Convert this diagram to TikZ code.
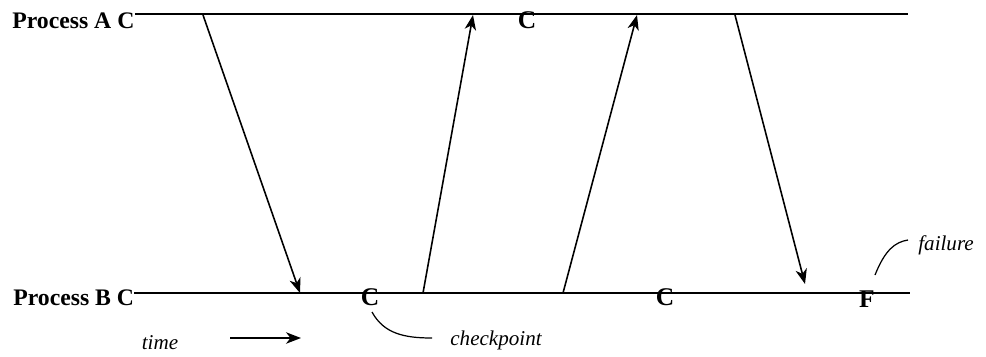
\documentclass[tikz,border=0pt]{standalone}
\usepackage{fontspec}
\setmainfont{Liberation Serif}
\usetikzlibrary{positioning,arrows.meta}

\begin{document}
\begin{tikzpicture}[x=0.02cm, y=-0.02cm, >={Stealth[length=8.5pt,width=6.5pt,inset=2.5pt]},
  proc/.style={font=\fontsize{13.5}{16}\selectfont\bfseries, inner sep=0pt},
  cmark/.style={font=\fontsize{14.5}{16}\selectfont\bfseries, inner sep=0pt},
  note/.style={font=\fontsize{12}{14}\selectfont\itshape, inner sep=0pt},
  tline/.style={line width=1.1pt},
  msg/.style={->, line width=0.9pt},
  pointer/.style={line width=0.7pt},
]
\useasboundingbox (0,0) rectangle (986,356);

\node[proc, anchor=base west] (pa) at (12,28)  {Process A C};
\node[proc, anchor=base west] (pb) at (13,305) {Process B C};

\coordinate (aend) at (908,14);
\coordinate (bend) at (910,293);
\draw[tline] (pa.east |- aend) -- (aend);
\draw[tline] (pb.east |- bend) -- (bend);

% checkpoints and failure
\node[cmark] (ca)  at (527,20)  {C};
\node[cmark] (cb1) at (370,297) {C};
\node[cmark] (cb2) at (665,297) {C};
\node[cmark] (fb)  at (867,299) {F};

% messages
\coordinate (s1) at (203,15);  \coordinate (r1) at (300,293);
\coordinate (s2) at (423,293); \coordinate (r2) at (473,15);
\coordinate (s3) at (563,293); \coordinate (r3) at (637,15);
\coordinate (s4) at (735,15);  \coordinate (r4) at (805,284);
\draw[msg] (s1) -- (r1);
\draw[msg] (s2) -- (r2);
\draw[msg] (s3) -- (r3);
\draw[msg] (s4) -- (r4);

% labels
\node[note] (tm) at (160,343) {time};
\coordinate (t0) at (230,338);
\coordinate (t1) at (301,338);
\draw[msg] (t0) -- (t1);

\node[note, anchor=west] (ck) at (450,340) {checkpoint};
\coordinate (ck0) at (372,312);
\coordinate (ck1) at (432,338);
\draw[pointer] (ck0) .. controls (384,334) and (405,338) .. (ck1);

\node[note, anchor=west] (fl) at (918,245) {failure};
\coordinate (fl0) at (875,275);
\coordinate (fl1) at (908,240);
\draw[pointer] (fl0) .. controls (885,250) and (895,242) .. (fl1);
\end{tikzpicture}
\end{document}
